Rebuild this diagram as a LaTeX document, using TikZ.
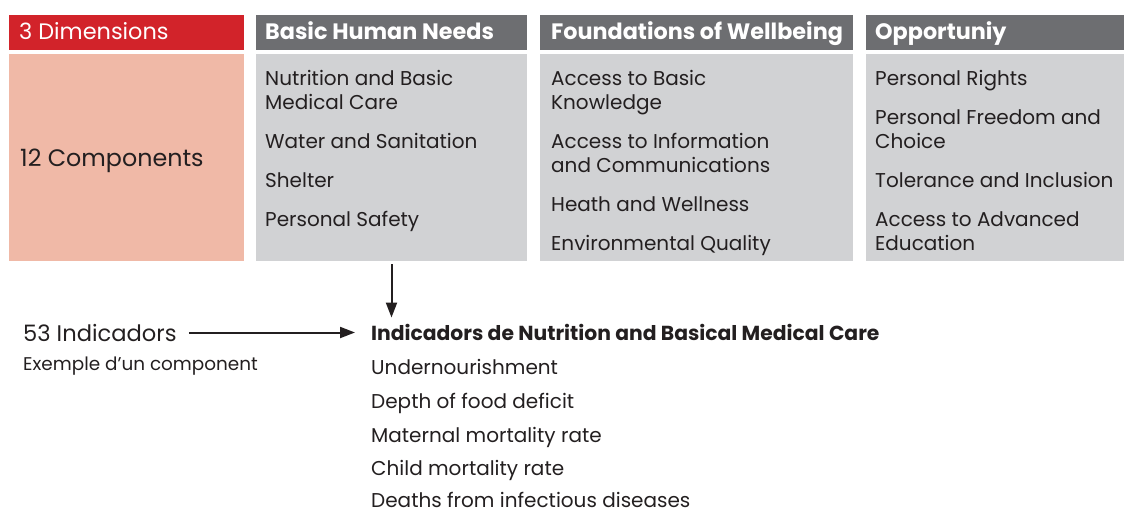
\documentclass[tikz,border=0pt]{standalone}
\usepackage{fontspec}
\setmainfont{Poppins}
\usetikzlibrary{arrows.meta}
\definecolor{dimred}{HTML}{D2232A}
\definecolor{salmon}{HTML}{F0B9A7}
\definecolor{hdrgray}{HTML}{6D6E71}
\definecolor{bodygray}{HTML}{D1D2D4}
\definecolor{ink}{HTML}{231F20}
\tikzset{
  panel/.style={anchor=north west, inner sep=0pt, outer sep=0pt, draw=none},
  hdrtxt/.style={anchor=base west, inner sep=0pt, text=white},
  bodytxt/.style={anchor=base west, inner sep=0pt, align=left, text=ink, font=\fontsize{20}{24}\selectfont},
  listtxt/.style={anchor=base west, inner sep=0pt, text=ink, font=\fontsize{20}{24}\selectfont},
  arr/.style={draw=ink, line width=2pt, -{Triangle[length=15pt,width=11pt]}}
}
\begin{document}
\begin{tikzpicture}[x=1pt,y={(0pt,-1pt)}]
\useasboundingbox (0,0) rectangle (1124,511);
% panels
\node[panel, fill=dimred, minimum width=235pt, minimum height=35pt] (dimhdr) at (9,15) {};
\node[panel, fill=salmon, minimum width=235pt, minimum height=207pt] (dimbody) at (9,54) {};
\node[panel, fill=hdrgray, minimum width=271pt, minimum height=35pt] (bhnhdr) at (256,15) {};
\node[panel, fill=bodygray, minimum width=271pt, minimum height=207pt] (bhnbody) at (256,54) {};
\node[panel, fill=hdrgray, minimum width=313pt, minimum height=35pt] (fwhdr) at (540,15) {};
\node[panel, fill=bodygray, minimum width=313pt, minimum height=207pt] (fwbody) at (540,54) {};
\node[panel, fill=hdrgray, minimum width=258pt, minimum height=35pt] (ophdr) at (866,15) {};
\node[panel, fill=bodygray, minimum width=258pt, minimum height=207pt] (opbody) at (866,54) {};
% header texts
\node[hdrtxt, font=\fontsize{22.4}{24}\selectfont] (t3d) at (19,40) {3 Dimensions};
\node[hdrtxt, font=\fontsize{22.3}{24}\selectfont\bfseries] (tbhn) at (265,40) {Basic Human Needs};
\node[hdrtxt, font=\fontsize{22.3}{24}\selectfont\bfseries] (tfw) at (551,40) {Foundations of Wellbeing};
\node[hdrtxt, font=\fontsize{22.3}{24}\selectfont\bfseries] (top) at (875,40) {Opportuniy};
\node[anchor=base west, inner sep=0pt, text=ink, font=\fontsize{23.8}{26}\selectfont] (t12) at (20,166) {12 Components};
% BHN items (base anchor = last line's baseline)
\node[bodytxt] (b1) at (265,109) {Nutrition and Basic\\Medical Care};
\node[bodytxt] (b2) at (265,148) {Water and Sanitation};
\node[bodytxt] (b3) at (265,187) {Shelter};
\node[bodytxt] (b4) at (265,226) {Personal Safety};
% FW items
\node[bodytxt] (f1) at (551,109) {Access to Basic\\Knowledge};
\node[bodytxt] (f2) at (551,172) {Access to Information\\and Communications};
\node[bodytxt] (f3) at (551,211) {Heath and Wellness};
\node[bodytxt] (f4) at (551,250) {Environmental Quality};
% Opp items
\node[bodytxt] (o1) at (875,85) {Personal Rights};
\node[bodytxt] (o2) at (875,148) {Personal Freedom and\\Choice};
\node[bodytxt] (o3) at (875,187) {Tolerance and Inclusion};
\node[bodytxt] (o4) at (875,250) {Access to Advanced\\Education};
% lower part
\node[anchor=base west, inner sep=0pt, text=ink, font=\fontsize{22.6}{26}\selectfont] (n53) at (23,341) {53 Indicadors};
\node[anchor=base west, inner sep=0pt, text=ink, font=\fontsize{18.4}{22}\selectfont] (ex) at (23,370) {Exemple d’un component};
\node[listtxt, font=\fontsize{20.3}{24}\selectfont\bfseries] (ih) at (371,340) {Indicadors de Nutrition and Basical Medical Care};
\node[listtxt] (l1) at (371,374) {Undernourishment};
\node[listtxt] (l2) at (371,408) {Depth of food deficit};
\node[listtxt] (l3) at (371,442) {Maternal mortality rate};
\node[listtxt] (l4) at (371,475) {Child mortality rate};
\node[listtxt] (l5) at (371,507) {Deaths from infectious diseases};
% connectors
\draw[arr, shorten <=3pt, shorten >=6pt] (bhnbody.south) -- (bhnbody.south |- ih.north);
\draw[arr, shorten <=12pt, shorten >=16pt] (n53.east) -- (n53.east -| ih.west);
\end{tikzpicture}
\end{document}
